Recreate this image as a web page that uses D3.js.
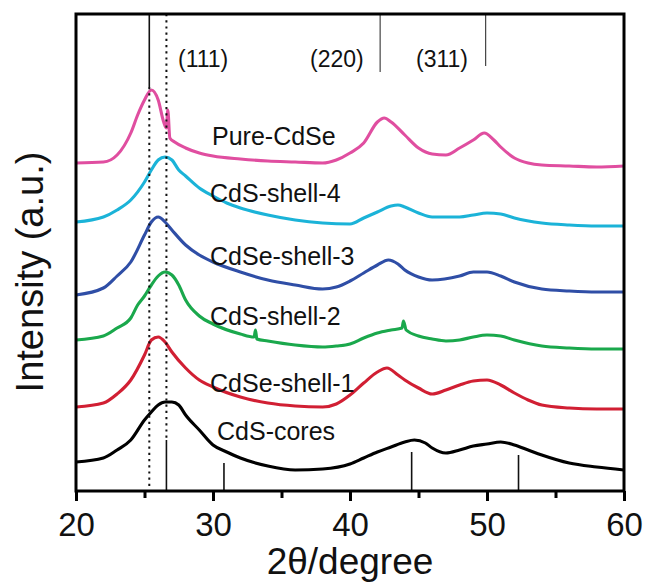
<!DOCTYPE html>
<html><head><meta charset="utf-8">
<script src="https://cdn.jsdelivr.net/npm/d3@7"></script>
<style>
html,body{margin:0;padding:0;background:#fff;}
svg{display:block;font-family:"Liberation Sans",Arial,Helvetica,sans-serif;}
</style></head>
<body>
<svg id="chart" width="645" height="583"></svg>
<script>
// ---- data (2θ in degree, intensity in a.u., stacked offsets included) ----
const xTicks = [20, 30, 40, 50, 60];
const xMinorTicks = [25, 35, 45, 55];
const seriesNames = ["Pure-CdSe", "CdS-shell-4", "CdSe-shell-3", "CdS-shell-2", "CdSe-shell-1", "CdS-cores"];
const seriesColors = ["#e04ea0", "#1bb3d8", "#2f4ea6", "#1aa84c", "#d11f33", "#000000"];

const pureCdSe = [[20,328],[22,329],[23,336],[24,358],[24.5,376],[25,391],[25.5,401],[26,391],[26.4,369],[26.6,363],[26.7,381],[26.85,353],[27.2,349],[28,343],[29,338],[30,335],[32,332],[34,330],[36,329],[38,328],[39,331],[40,338],[41,348],[42,369],[42.5,373],[43,369],[44,356],[45,343],[46,337],[47,336],[48,343],[49,351],[49.8,358],[50.5,351],[51,344],[52,333],[53,328],[54,326],[56,325],[58,324],[60,325]];
const cdsShell4 = [[20,269],[22,274],[23,281],[24,291],[25,309],[25.5,321],[26,331],[26.5,334],[27,331],[27.5,321],[28,315],[29,303],[30,295],[31,288],[32,283],[34,276],[36,271],[38,268],[40,267],[41,273],[42,279],[43,285],[43.5,286],[44,284],[45,278],[46,274],[48,274],[49,276],[50,278],[51,277],[52,273],[54,268],[56,266],[58,265],[60,265]];
const cdseShell3 = [[20,196],[22,203],[23,215],[24,229],[25,256],[25.5,269],[26,274],[26.5,269],[27,261],[28,246],[29,236],[30,229],[32,219],[34,211],[36,206],[38,202],[39,204],[40,210],[41,218],[42,226],[42.8,231],[43.5,227],[44,221],[45,214],[46,211],[48,215],[49,219],[50,219],[51,215],[52,209],[54,202],[56,200],[58,199],[60,199]];
const cdsShell2 = [[20,151],[22,155],[23,163],[24,173],[24.5,186],[25,195],[25.5,206],[26,215],[26.5,219],[27,216],[27.5,206],[28,191],[29,175],[30,167],[32,157],[33,154],[33.1,161],[33.2,152],[34,150],[36,146],[38,144],[39,145],[40,147],[41,153],[42,158],[43,161],[43.8,163],[43.9,170],[44.1,161],[45,155],[46,152],[47,150],[48,151],[49,154],[50,156],[51,155],[52,151],[54,145],[56,143],[58,142],[60,142]];
const cdseShell1 = [[20,84],[22,88],[23,97],[24,111],[25,136],[25.5,151],[26,154],[26.5,149],[27,139],[28,123],[29,111],[30,104],[32,94],[34,88],[36,85],[38,84],[39,87],[40,96],[41,108],[42,119],[42.7,123],[43.5,116],[44,111],[45,103],[46,97],[47,101],[48,106],[49,110],[50,111],[51,106],[52,98],[53,91],[54,86],[56,83],[58,82],[60,82]];
const cdsCores = [[20,29],[22,33],[23,41],[24,51],[25,71],[25.5,79],[26,86],[26.5,89],[27,89],[27.5,86],[28,76],[29,61],[30,46],[31,39],[32,33],[34,25],[36,21],[38,22],[40,27],[41,33],[42,39],[43,44],[44,49],[44.7,51],[45.5,48],[46,43],[47,38],[48,41],[49,45],[50,47],[51,49],[52,46],[53,41],[54,36],[56,28],[58,24],[60,21]];
const allSeries = [pureCdSe, cdsShell4, cdseShell3, cdsShell2, cdseShell1, cdsCores];

// reference patterns
const cdseRefPos = [25.35, 42.2, 49.9];          // hanging from top
const cdseRefInt = [73, 58, 52];
const cdseRefLabels = ["(111)", "(220)", "(311)"];
const cdsRefPos = [26.6, 30.8, 44.5, 52.3];       // standing on bottom
const cdsRefInt = [51, 28, 39, 36];
const yMaxValue = 477;

// ---- layout ----
const L = 76, R = 624, T = 14, B = 491;
const svg = d3.select("#chart");
const x = d3.scaleLinear().domain([20, 60]).range([L, R]);
const y = d3.scaleLinear().domain([0, yMaxValue]).range([B, T]);

// curves
const line = d3.line().x(d => x(d[0])).y(d => y(d[1])).curve(d3.curveMonotoneX);
svg.append("g").selectAll("path").data(allSeries).join("path")
  .attr("d", line).attr("fill", "none")
  .attr("stroke", (d, i) => seriesColors[i])
  .attr("stroke-width", 3.1).attr("stroke-linejoin", "round");

// reference lines
const refs = svg.append("g").attr("stroke", "#111");
cdseRefPos.forEach((p, i) => {
  refs.append("line").attr("x1", x(p)).attr("x2", x(p))
    .attr("y1", y(yMaxValue)).attr("y2", y(yMaxValue - cdseRefInt[i]))
    .attr("stroke-width", i === 0 ? 1.6 : 1.2).attr("stroke", i === 0 ? "#111" : "#444");
});
cdsRefPos.forEach((p, i) => {
  refs.append("line").attr("x1", x(p)).attr("x2", x(p))
    .attr("y1", y(0)).attr("y2", y(cdsRefInt[i]))
    .attr("stroke-width", 1.6);
});
// dotted guides
refs.append("line").attr("x1", x(cdseRefPos[0])).attr("x2", x(cdseRefPos[0]))
  .attr("y1", y(yMaxValue - cdseRefInt[0])).attr("y2", y(0))
  .attr("stroke-width", 2).attr("stroke-dasharray", "2.2,4");
refs.append("line").attr("x1", x(cdsRefPos[0])).attr("x2", x(cdsRefPos[0]))
  .attr("y1", y(yMaxValue)).attr("y2", y(cdsRefInt[0]))
  .attr("stroke-width", 2).attr("stroke-dasharray", "2.2,4");

// hkl labels
const hklX = [178, 310, 416];
svg.append("g").selectAll("text").data(cdseRefLabels).join("text")
  .attr("x", (d, i) => hklX[i]).attr("y", 67)
  .attr("font-size", 23).attr("fill", "#111").text(d => d);

// series labels
const labelPos = [[212,145],[210,202],[210,265],[210,325],[210,392],[217,440]];
svg.append("g").selectAll("text").data(seriesNames).join("text")
  .attr("x", (d, i) => labelPos[i][0]).attr("y", (d, i) => labelPos[i][1])
  .attr("font-size", 25).attr("fill", "#111").text(d => d);

// frame
svg.append("rect").attr("x", L).attr("y", T).attr("width", R - L).attr("height", B - T)
  .attr("fill", "none").attr("stroke", "#000").attr("stroke-width", 3);

// x axis
const ax = svg.append("g").attr("transform", `translate(0,${B})`)
  .call(d3.axisBottom(x).tickValues(xTicks).tickSize(10).tickPadding(12).tickFormat(d3.format("d")));
ax.select(".domain").remove();
ax.selectAll(".tick line").attr("stroke-width", 3);
ax.selectAll(".tick text").attr("font-size", 33).attr("font-family", "Liberation Sans, Arial, sans-serif").attr("fill", "#111");
const axm = svg.append("g").attr("transform", `translate(0,${B})`)
  .call(d3.axisBottom(x).tickValues(xMinorTicks).tickSize(7).tickFormat(""));
axm.select(".domain").remove();
axm.selectAll(".tick line").attr("stroke-width", 3);

// axis titles
svg.append("text").attr("x", 350).attr("y", 574).attr("text-anchor", "middle")
  .attr("font-size", 37).attr("fill", "#111").text("2θ/degree");
svg.append("text").attr("transform", "translate(43,272) rotate(-90)").attr("text-anchor", "middle")
  .attr("font-size", 38).attr("fill", "#111").text("Intensity (a.u.)");
</script>
</body></html>
